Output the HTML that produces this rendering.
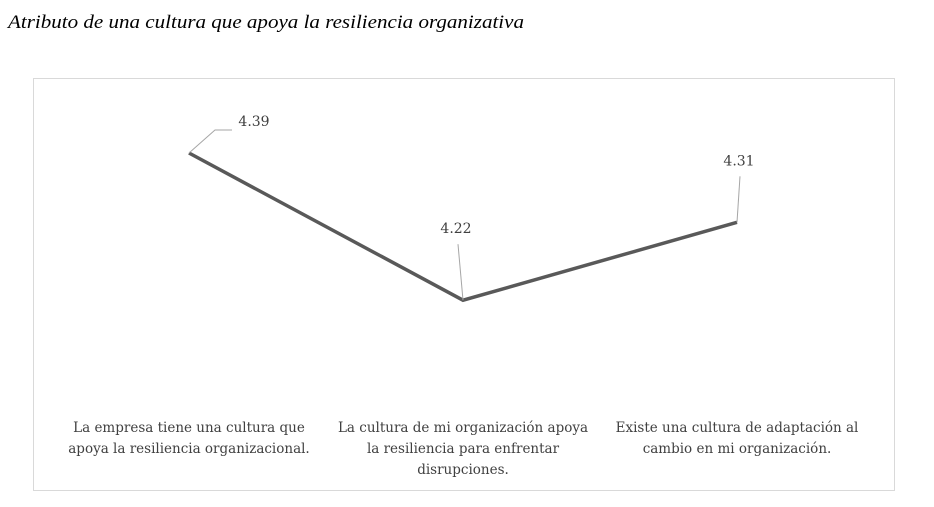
<!DOCTYPE html>
<html><head><meta charset="utf-8"><style>
body{margin:0;width:934px;height:502px;background:#fff;overflow:hidden;font-family:"Liberation Serif",serif}
</style></head><body>
<svg width="934" height="502">
<text x="8" y="28" font-size="19" font-style="italic" fill="#000" textLength="516" lengthAdjust="spacingAndGlyphs">Atributo de una cultura que apoya la resiliencia organizativa</text>
<rect x="33.5" y="78.5" width="861" height="412" fill="#fff" stroke="#d9d9d9"/>
<g id="marks"></g>
<g id="xlabels" font-size="13.5" fill="#404040" text-anchor="middle" font-family="DejaVu Serif, serif"></g>
</svg>
<script>
const categories=[["La empresa tiene una cultura que","apoya la resiliencia organizacional."],["La cultura de mi organización apoya","la resiliencia para enfrentar","disrupciones."],["Existe una cultura de adaptación al","cambio en mi  organización."]];
const values=[4.39,4.22,4.31];
const labels=["4.39","4.22","4.31"];
const NS="http://www.w3.org/2000/svg";
function xs(i){return 189+i*274;}
function ys(v){return 153+(4.39-v)*866;}
const marks=document.getElementById('marks');
const labelOff=[[65,-32],[-7,-72],[2,-62]];
let d=values.map((v,i)=>(i?'L':'M')+xs(i)+' '+ys(v)).join(' ');
const p=document.createElementNS(NS,'path');
p.setAttribute('d',d);p.setAttribute('fill','none');p.setAttribute('stroke','#595959');p.setAttribute('stroke-width','3.5');


marks.appendChild(p);
values.forEach((v,i)=>{
 const x=xs(i),y=ys(v);
 const l=document.createElementNS(NS,'polyline');
 let pts=i==0?[[x,y],[x+26,y-23],[x+43,y-23]]:[[x,y],[x-5,y-56]];
 if(i==2)pts=[[x,y],[x+3,y-46]];
 l.setAttribute('points',pts.map(q=>q.join(',')).join(' '));
 l.setAttribute('fill','none');l.setAttribute('stroke','#a6a6a6');l.setAttribute('stroke-width','1');
 
 
 marks.appendChild(l);
 const t=document.createElementNS(NS,'text');
 t.setAttribute('x',x+labelOff[i][0]);t.setAttribute('y',y+labelOff[i][1]+5);
 t.setAttribute('text-anchor','middle');t.setAttribute('font-size','14');t.setAttribute('fill','#404040');
 t.setAttribute('font-family','DejaVu Serif, serif');
 t.textContent=labels[i];
 
 
 marks.appendChild(t);
});
const xl=document.getElementById('xlabels');
categories.forEach((lines,i)=>{
 const t=document.createElementNS(NS,'text');
 
 
 lines.forEach((s,j)=>{const ts=document.createElementNS(NS,'tspan');ts.setAttribute('x',xs(i));ts.setAttribute('y',432+j*21);ts.textContent=s;t.appendChild(ts);});
 xl.appendChild(t);
});
</script>
</body></html>
